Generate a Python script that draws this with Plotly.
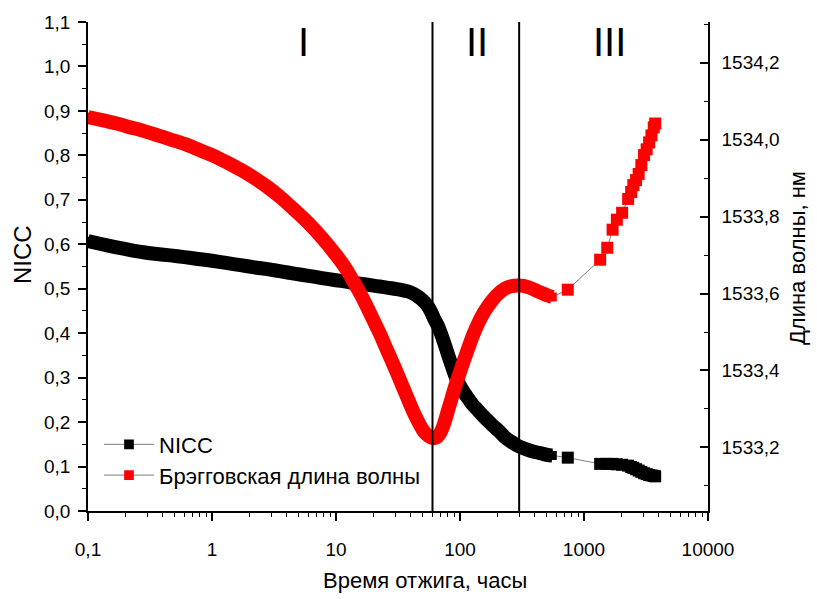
import plotly.graph_objects as go

# ---------------- data ----------------
time_h = [0.1, 0.13, 0.17, 0.22, 0.28, 0.36, 0.46, 0.6, 0.77, 1.0,
          1.3, 1.7, 2.2, 2.8, 3.6, 4.6, 6, 7.7, 10, 12,
          14, 16, 18, 20, 22.5, 25, 28, 31, 34, 38,
          42, 46, 50, 54, 58, 62, 66, 70, 75, 80,
          86, 92, 99, 107, 116, 126, 138, 152, 168, 186,
          206, 230, 258, 290, 325, 365, 410, 460, 510, 555,
          740, 1350, 1540, 1700, 1840, 2030, 2270, 2400, 2500, 2630,
          2760, 2900, 3050, 3200, 3350, 3500, 3650, 3750]

nicc = [0.607, 0.600, 0.593, 0.587, 0.582, 0.578, 0.575, 0.571, 0.567, 0.563,
        0.558, 0.553, 0.548, 0.544, 0.539, 0.534, 0.529, 0.524, 0.519, 0.516,
        0.513, 0.511, 0.509, 0.507, 0.505, 0.503, 0.501, 0.499, 0.497, 0.494,
        0.489, 0.482, 0.474, 0.464, 0.450, 0.432, 0.418, 0.400, 0.376, 0.352,
        0.326, 0.303, 0.284, 0.268, 0.254, 0.240, 0.228, 0.215, 0.203, 0.191,
        0.180, 0.166, 0.156, 0.147, 0.141, 0.136, 0.132, 0.129, 0.126, 0.125,
        0.120, 0.106, 0.106, 0.106, 0.105, 0.104, 0.102, 0.099, 0.097, 0.094,
        0.091, 0.088, 0.085, 0.083, 0.081, 0.080, 0.079, 0.078]

bragg_nm = [1534.059, 1534.051, 1534.042, 1534.032, 1534.023, 1534.012, 1534.001, 1533.989, 1533.975, 1533.960,
            1533.942, 1533.922, 1533.900, 1533.877, 1533.849, 1533.818, 1533.783, 1533.745, 1533.700, 1533.665,
            1533.628, 1533.595, 1533.562, 1533.531, 1533.497, 1533.463, 1533.427, 1533.394, 1533.363, 1533.326,
            1533.293, 1533.267, 1533.246, 1533.233, 1533.226, 1533.224, 1533.228, 1533.240, 1533.265, 1533.296,
            1533.330, 1533.362, 1533.392, 1533.424, 1533.456, 1533.488, 1533.518, 1533.545, 1533.567, 1533.586,
            1533.601, 1533.613, 1533.619, 1533.621, 1533.620, 1533.615, 1533.608, 1533.601, 1533.595, 1533.591,
            1533.610, 1533.688, 1533.719, 1533.766, 1533.792, 1533.810, 1533.846, 1533.864, 1533.882, 1533.895,
            1533.911, 1533.934, 1533.960, 1533.975, 1533.993, 1534.011, 1534.032, 1534.042]

n_dense = 60  # continuously measured part (up to ~555 h)

boundaries_h = [60, 300]
regions = ["I", "II", "III"]

x_tickvals = [0.1, 1, 10, 100, 1000, 10000]
x_ticktext = ["0,1", "1", "10", "100", "1000", "10000"]
x_minor = [m * 10.0 ** e for e in range(-1, 4) for m in range(2, 10)]

y1_tickvals = [i / 10 for i in range(12)]
y1_ticktext = ["0,0", "0,1", "0,2", "0,3", "0,4", "0,5", "0,6", "0,7", "0,8", "0,9", "1,0", "1,1"]
y1_minor = [i / 20 for i in range(1, 22, 2)]

y2_tickvals = [1533.2, 1533.4, 1533.6, 1533.8, 1534.0, 1534.2]
y2_ticktext = ["1533,2", "1533,4", "1533,6", "1533,8", "1534,0", "1534,2"]
y2_minor = [1533.1, 1533.3, 1533.5, 1533.7, 1533.9, 1534.1, 1534.3]

y1_range = [0, 1.1]
y2_range = [1533.0346, 1534.306]

FONT = "Liberation Sans, Arial, sans-serif"
BAND = 14
marker_sizes = [9] * n_dense + [12] * (len(time_h) - n_dense)

fig = go.Figure()

# NICC: markers + thin connector, then continuous band over the dense part
fig.add_trace(go.Scatter(x=time_h, y=nicc, mode="lines+markers", name="NICC",
                         line=dict(color="#7f7f7f", width=1),
                         marker=dict(symbol="square", size=marker_sizes, color="black",
                                     opacity=1, line=dict(width=0)),
                         yaxis="y", legend="legend"))
fig.add_trace(go.Scatter(x=time_h[:n_dense], y=nicc[:n_dense], mode="lines",
                         line=dict(color="black", width=BAND, shape="spline", smoothing=0.6),
                         showlegend=False, hoverinfo="skip", yaxis="y"))

# Bragg wavelength
fig.add_trace(go.Scatter(x=time_h, y=bragg_nm, mode="lines+markers", name="Брэгговская длина волны",
                         line=dict(color="#7f7f7f", width=1),
                         marker=dict(symbol="square", size=marker_sizes, color="red",
                                     opacity=1, line=dict(width=0)),
                         yaxis="y2", legend="legend2"))
fig.add_trace(go.Scatter(x=time_h[:n_dense], y=bragg_nm[:n_dense], mode="lines",
                         line=dict(color="red", width=BAND, shape="spline", smoothing=0.6),
                         showlegend=False, hoverinfo="skip", yaxis="y2"))

# region boundaries
for b in boundaries_h:
    fig.add_trace(go.Scatter(x=[b, b], y=y2_range, mode="lines",
                             line=dict(color="black", width=2), showlegend=False,
                             hoverinfo="skip", yaxis="y2"))

L, R, T, B = 88, 109, 18, 88
W, H = 817, 599
W_plot, H_plot = W - L - R, H - T - B
def px(xp): return (xp - L) / W_plot
def py(yp): return (H - B - yp) / H_plot

# region labels
for lbl, xpix in zip(regions, [303, 477, 609]):
    fig.add_annotation(text=lbl, x=px(xpix), y=py(38), xref="paper", yref="paper",
                       showarrow=False, font=dict(family=FONT, size=40, color="black"),
                       xanchor="center", yanchor="middle")

fig.add_annotation(text="Время отжига, часы", x=px(425), y=py(581), xref="paper", yref="paper",
                   showarrow=False, font=dict(family=FONT, size=22, color="black"),
                   xanchor="center", yanchor="middle")
fig.add_annotation(text="NICC", x=px(22), y=py(253), xref="paper", yref="paper",
                   showarrow=False, textangle=-90, font=dict(family=FONT, size=24, color="black"),
                   xanchor="center", yanchor="middle")
fig.add_annotation(text="Длина волны, нм", x=px(797), y=py(256), xref="paper", yref="paper",
                   showarrow=False, textangle=-90, font=dict(family=FONT, size=22, color="black"),
                   xanchor="center", yanchor="middle")

axis_common = dict(showline=True, linecolor="black", linewidth=1.5, showgrid=False,
                   zeroline=False, tickcolor="black", tickwidth=1.5,
                   tickfont=dict(family=FONT, size=19, color="black"))

fig.update_layout(
    width=W, height=H,
    margin=dict(l=L, r=R, t=T, b=B),
    paper_bgcolor="white", plot_bgcolor="white",
    xaxis=dict(type="log", range=[-1, 4], tickmode="array", tickvals=x_tickvals,
               ticktext=x_ticktext, ticks="outside", ticklen=8, ticklabelstandoff=12,
               minor=dict(tickmode="array", tickvals=x_minor, ticks="outside", ticklen=4,
                          tickcolor="black", tickwidth=1.2),
               **axis_common),
    yaxis=dict(range=y1_range, tickmode="array", tickvals=y1_tickvals, ticktext=y1_ticktext,
               ticks="outside", ticklen=8, ticklabelstandoff=4,
               minor=dict(tickmode="array", tickvals=y1_minor, ticks="outside", ticklen=4,
                          tickcolor="black", tickwidth=1.2),
               **axis_common),
    yaxis2=dict(range=y2_range, overlaying="y", side="right", anchor="x",
                tickmode="array", tickvals=y2_tickvals, ticktext=y2_ticktext,
                ticks="inside", ticklen=8, ticklabelstandoff=8,
                minor=dict(tickmode="array", tickvals=y2_minor, ticks="inside", ticklen=4,
                           tickcolor="black", tickwidth=1.2),
                **axis_common),
    legend=dict(x=px(99), y=py(444), xanchor="left", yanchor="middle", bgcolor="rgba(0,0,0,0)",
                itemwidth=50, font=dict(family=FONT, size=22, color="black")),
    legend2=dict(x=px(99), y=py(475), xanchor="left", yanchor="middle", bgcolor="rgba(0,0,0,0)",
                 itemwidth=50, font=dict(family=FONT, size=22, color="black")),
)

fig.write_html("out.html", config={"displayModeBar": False},
               post_script="document.body.style.margin='0px';")
